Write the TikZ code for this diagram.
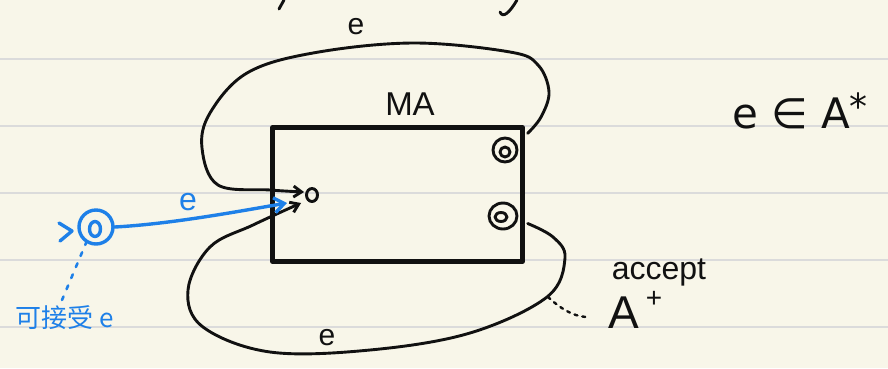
\documentclass[tikz,border=0pt]{standalone}
\usepackage{fontspec}
\setmainfont{Liberation Sans}
\newfontfamily\cjk{Noto Sans CJK SC}
\newfontfamily\dejavu{DejaVu Sans}
\usetikzlibrary{arrows.meta,calc,shapes.geometric}
\definecolor{paper}{HTML}{F8F6E9}
\definecolor{ruleline}{HTML}{DBDBDB}
\definecolor{pen}{HTML}{111111}
\definecolor{bluepen}{HTML}{1E80E8}
\tikzset{
  ink/.style={draw=pen, line width=2.9pt, line cap=round, line join=round},
  bink/.style={draw=bluepen, line width=3.4pt, line cap=round, line join=round},
  hand/.style={text=pen, inner sep=0pt},
  barb/.style={-{Straight Barb[length=8pt,width=11pt]}},
}
\begin{document}
\begin{tikzpicture}[x=1pt,y=-1pt]
\fill[paper] (0,0) rectangle (888,368);
\useasboundingbox (0,0) rectangle (888,368);
\foreach \yy in {59,126,193,260,327}
  \draw[ruleline, line width=1.8pt] (0,\yy) -- (888,\yy);

% cut-off strokes at top
\draw[ink] (279,9) -- (284,0);
\draw[ink] (500,12) .. controls (503,19) and (510,12) .. (517,0);

% machine box
\node[ink, line width=4.4pt, rectangle, minimum width=250pt, minimum height=134pt, inner sep=0pt] (ma) at (397.5,194.5) {};
\node[hand, font=\fontsize{33}{35}\selectfont] (malabel) at (410,104) {MA};

% accept states
\node[ink, circle, minimum size=24pt, inner sep=0pt] (acc1) at (505,150) {};
\node[ink, ellipse, minimum width=10pt, minimum height=10pt, inner sep=0pt] (acc1in) at (505,152) {};
\node[ink, ellipse, minimum width=28pt, minimum height=26pt, inner sep=0pt] (acc2) at (503,216) {};
\node[ink, ellipse, minimum width=12pt, minimum height=9pt, inner sep=0pt] (acc2in) at (501,217) {};

% initial state of MA
\node[ink, ellipse, minimum width=11pt, minimum height=13pt, inner sep=0pt] (q0) at (312,195) {};

% top loop
\draw[ink, barb] plot[smooth, tension=0.6] coordinates {
  ($(ma.north east)+(3,8)$) (541,117) (549,92) (538,65) (510,52) (413,43)
  (313,53) (247,73) (210,113) (202,148) (218,185) (270,190) ($(q0.west)+(-1,-3)$)};
\node[hand, font=\fontsize{30}{32}\selectfont] (etop) at (356,27) {e};

% bottom loop
\draw[ink, barb] plot[smooth, tension=0.6] coordinates {
  ($(ma.east)+(3,29)$) (553,237) (565,258) (547,297) (470,333) (370,350)
  (270,352) (203,327) (188,290) (210,247) (253,225) ($(q0.west)+(-4,8)$)};
\node[hand, font=\fontsize{30}{32}\selectfont] (ebot) at (327,338) {e};

% accept A+ annotation
\node[hand, font=\fontsize{32}{34}\selectfont] (accept) at (659,272) {accept};
\node[hand, font=\fontsize{46}{48}\selectfont] (aplus) at (624,313) {A};
\node[hand, font=\fontsize{28}{30}\selectfont] (plus) at (654,299) {+};
\draw[ink, line width=2.4pt, dash pattern=on 3pt off 5pt] (548,297) .. controls (560,308) and (572,316) .. (586,317);

% e in A*
\node[hand, font=\dejavu\fontsize{42}{44}\selectfont] (einA) at (800,111) {e ∈ A\raisebox{0.2em}{\fontsize{36}{36}\selectfont *}};

% blue automaton
\node[bink, circle, minimum size=34pt, inner sep=0pt] (b0) at (96,227) {};
\node[bink, ellipse, minimum width=11pt, minimum height=15pt, inner sep=0pt] (b0in) at (95,229) {};
\draw[bink] (59,223) -- (72,231) -- (60,241);
\coordinate (bluetip) at (287,203);
\draw[bink, -{Straight Barb[length=10pt,width=15pt]}] (b0.east) .. controls (170,224) and (235,212) .. (bluetip);
\node[text=bluepen, inner sep=0pt, font=\fontsize{32}{34}\selectfont] (eblue) at (188,202) {e};
\draw[draw=bluepen, line width=2.6pt, line cap=round, dash pattern=on 4pt off 8pt] (b0.south west) ++(4,1) -- (62,300);
\node[text=bluepen, inner sep=0pt, anchor=west, font=\cjk\fontsize{26}{28}\selectfont] (canacc) at (15,318) {可接受 e};
\end{tikzpicture}
\end{document}
